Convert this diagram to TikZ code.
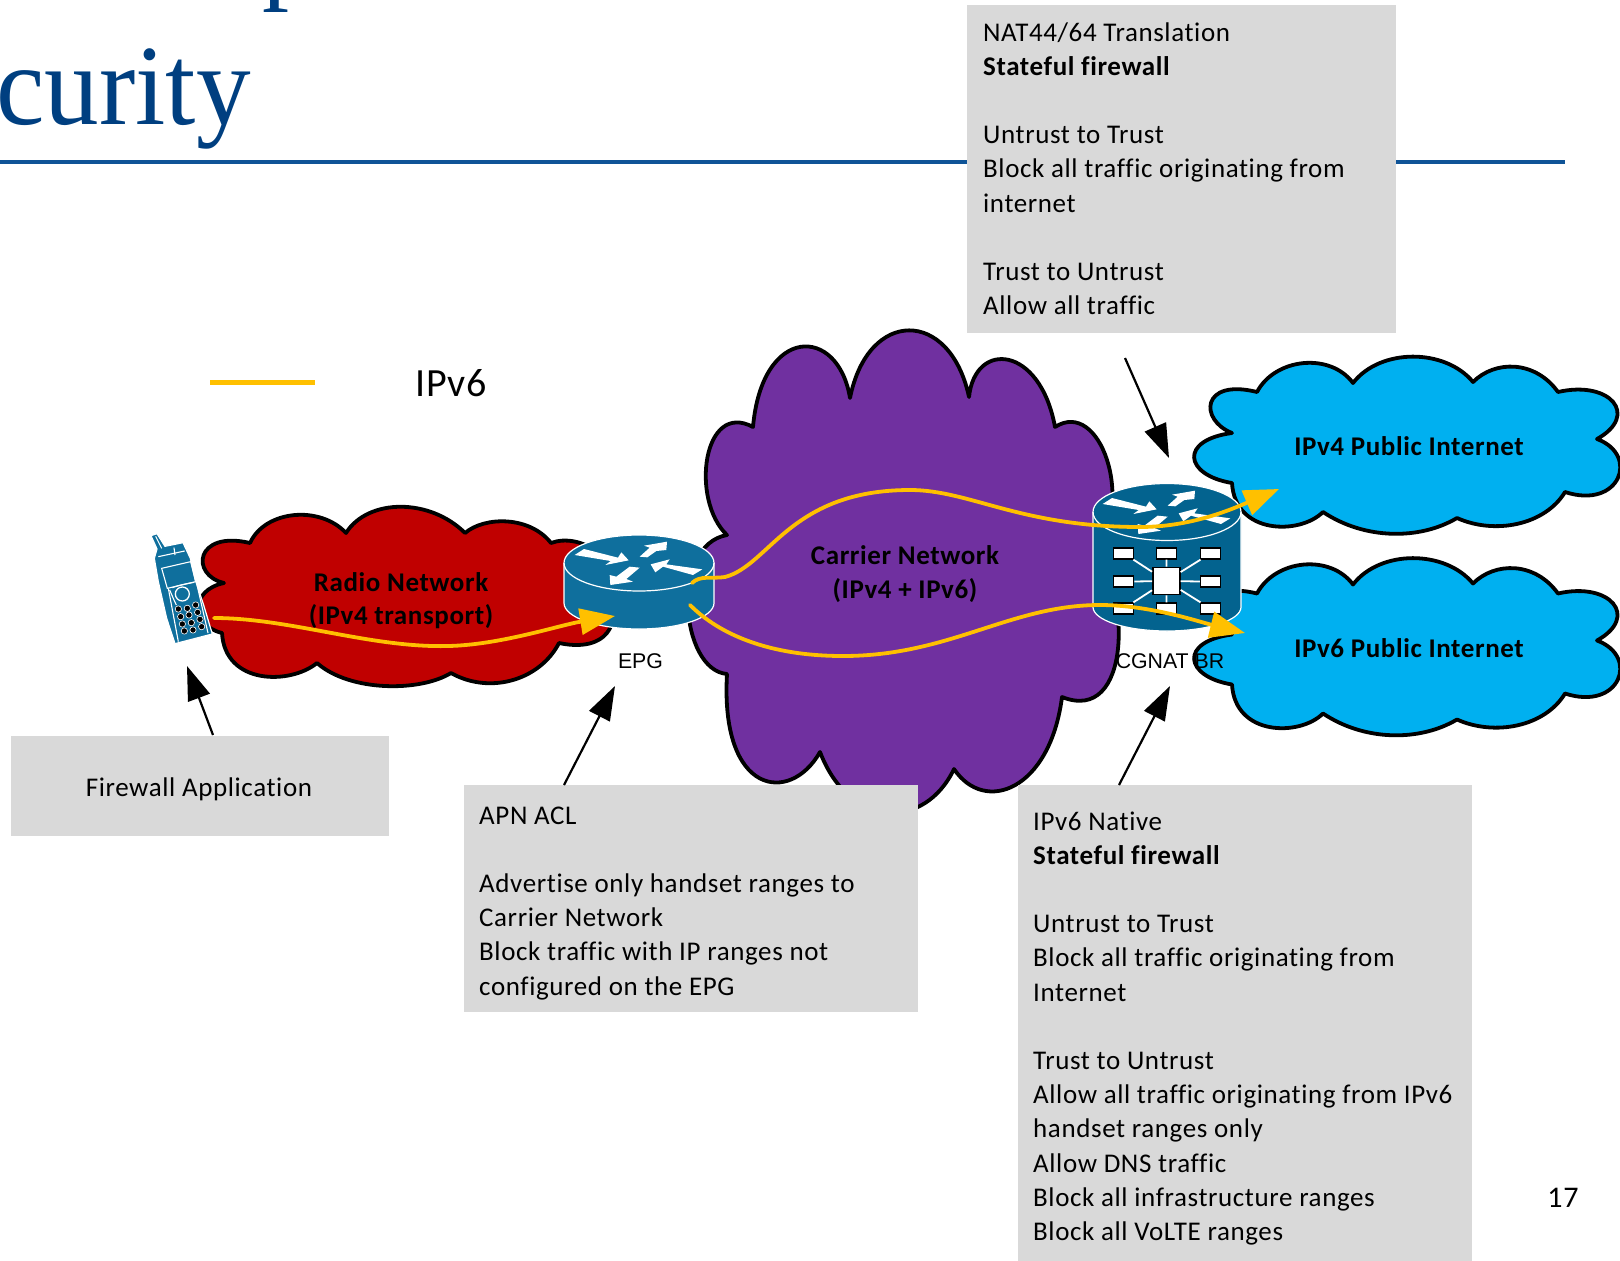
\documentclass[tikz,border=0pt]{standalone}
\usepackage{fontspec}
\setmainfont[Ligatures=NoCommon,LetterSpace=2.25]{Carlito}
\newfontfamily\arialf{Liberation Sans}
\newfontfamily\titlef{Liberation Serif}
\usetikzlibrary{arrows.meta}
\definecolor{cloudred}{HTML}{C00000}
\definecolor{cloudviolet}{HTML}{7030A0}
\definecolor{cloudblue}{HTML}{00B0F0}
\definecolor{routerA}{HTML}{0F6F9D}
\definecolor{routerB}{HTML}{03638F}
\definecolor{gold}{HTML}{FFC000}
\definecolor{boxgray}{HTML}{D9D9D9}
\definecolor{titleblue}{HTML}{003F80}
\definecolor{ruleblue}{HTML}{0F5497}
\tikzset{
  cloudshape/.style={draw=black,line width=3.8pt,line join=round},
  graybox/.style={fill=boxgray,draw=none},
  boxtext/.style={anchor=north west,inner sep=0pt,align=left,font=\fontsize{27}{34.2}\selectfont},
  cloudlabel/.style={inner sep=0pt,align=center,font=\fontsize{27}{34.2}\selectfont\bfseries,text=black},
  smalllabel/.style={inner sep=0pt,font=\fontsize{21.3}{25}\selectfont\arialf,text=black},
  goldline/.style={draw=gold,line width=3.8pt,line cap=round,-{Triangle[length=35pt,width=26pt,fill=gold]}},
  blackarrow/.style={draw=black,line width=2.2pt,-{Triangle[length=34pt,width=23pt,fill=black]}},
  portbox/.style={draw=black,fill=white,line width=1.6pt,minimum width=20pt,minimum height=11pt,inner sep=0pt},
  hubbox/.style={draw=black,fill=white,line width=1.6pt,minimum width=27pt,minimum height=27pt,inner sep=0pt},
  spoke/.style={draw=white,line width=1.8pt},
}
\newcommand{\rtrarrows}{%
  \fill[white] (-193,-24)--(-165,-42)--(-63,-16)--(-53,-32)--(-31,-8)--(-101,6)--(-85,-6)--cycle;
  \fill[white] (2,-19)--(25,-17)--(52,-36)--(82,-39)--(84,-64)--(15,-52)--(32,-46)--cycle;
  \fill[white] (190,19)--(162,36)--(72,11)--(49,28)--(35,4)--(92,-11)--(82,4)--cycle;
  \fill[white] (-28,11)--(2,14)--(-38,48)--(-18,56)--(-86,66)--(-88,36)--(-68,41)--cycle;
}
\begin{document}
\begin{tikzpicture}[x=1pt,y=-1pt]
\useasboundingbox (0,0) rectangle (1620,1261);

% title
\node[anchor=base west,inner sep=0pt,text=titleblue,font=\fontsize{108}{120}\selectfont\titlef] (titlep) at (262,-11) {p};
\node[anchor=base west,inner sep=0pt,text=titleblue,font=\fontsize{108}{120}\selectfont\titlef] (titlecurity) at (-4,124) {\scalebox{1.01}[1.06]{curity}};
\fill[ruleblue] (0,160.3) rectangle (1565,163.7);

% legend
\coordinate (legA) at (210,382.5);
\coordinate (legB) at (315,382.5);
\draw[gold,line width=5pt] (legA) -- (legB);
\node[anchor=west,inner sep=0pt,font=\fontsize{40}{48}\selectfont] (legtext) at (415,383) {IPv6};

% red cloud
\path[cloudshape,fill=cloudred] (224,583)
 .. controls (190,575) and (195,530) .. (250,543)
 .. controls (265,510) and (320,505) .. (346,533)
 .. controls (368,498) and (430,498) .. (465,533)
 .. controls (485,516) and (530,516) .. (551,543)
 .. controls (580,532) and (625,560) .. (600,590)
 .. controls (625,610) and (615,655) .. (559,643)
 .. controls (540,680) and (490,695) .. (451,673)
 .. controls (420,692) and (350,692) .. (317,663)
 .. controls (290,685) and (225,685) .. (222,633)
 .. controls (190,625) and (190,590) .. (224,583) -- cycle;

% carrier cloud
\path[cloudshape,fill=cloudviolet] (753,427)
 .. controls (762,325) and (838,325) .. (850,398)
 .. controls (868,308) and (950,308) .. (969,397)
 .. controls (975,340) and (1040,345) .. (1055,427)
 .. controls (1100,398) and (1135,500) .. (1095,555)
 .. controls (1130,590) and (1132,725) .. (1062,697)
 .. controls (1050,790) and (985,815) .. (954,769)
 .. controls (925,830) and (850,830) .. (820,752)
 .. controls (790,805) and (720,795) .. (727,674)
 .. controls (680,670) and (670,545) .. (727,535)
 .. controls (690,500) and (703,400) .. (753,427) -- cycle;

% blue clouds
\foreach \dy in {0,201.5}{
\path[cloudshape,fill=cloudblue,yshift=-\dy pt] (1232,433)
 .. controls (1199,420) and (1201,378) .. (1257,392)
 .. controls (1275,358) and (1330,352) .. (1353,383)
 .. controls (1380,348) and (1445,348) .. (1473,382)
 .. controls (1495,360) and (1535,360) .. (1558,392)
 .. controls (1610,380) and (1640,415) .. (1597,439)
 .. controls (1640,455) and (1620,510) .. (1565,492)
 .. controls (1545,525) and (1495,535) .. (1457,518)
 .. controls (1420,540) and (1365,540) .. (1323,512)
 .. controls (1300,535) and (1235,535) .. (1232,483)
 .. controls (1184,475) and (1179,440) .. (1232,433) -- cycle;
}

% phone
\begin{scope}[shift={(139,525)},x=.3333pt,y=-.3333pt]
  \path[fill=routerA,draw=white,line width=1.2pt,line join=round]
    (36,32)--(54,26)--(78,64)--(132,53)--(154,100)--(169,165)--(194,240)--(220,327)--(108,356)--(83,280)--(58,170)--(46,100)--(54,72)--cycle;
  \draw[white,line width=1.1pt] (68,130)--(155,110)--(170,170)--(85,190)--cycle;
  \draw[white,line width=1.1pt] (58,95)--(137,78);
  \draw[white,line width=1.1pt] (105,68)--(108,90);
  \draw[white,line width=1.1pt] (50,34)--(68,70);
  \draw[white,line width=1.1pt] (88,190)--(118,350);
  \draw[white,line width=1.1pt] (172,170)--(207,324);
  \draw[white,line width=1.3pt] (130,207) circle (21);
  \draw[white,line width=1.1pt] (92,195)--(105,225)--(112,240);
  \draw[white,line width=1.1pt] (100,188) .. controls (120,180) and (150,175) .. (165,172);
  \foreach \px/\py in {118/252,145/250,170/240,125/275,150/270,176/262,130/297,157/293,183/283,136/318,162/315,188/305}{
    \fill[black,draw=white,line width=.6pt] (\px,\py) circle (9.5);
  }
\end{scope}

% EPG router
\path[fill=routerA,draw=white,line width=1.2pt] (564,563) -- (564,603)
  arc[start angle=180,end angle=360,x radius=75pt,y radius=26pt] -- (714,563)
  arc[start angle=0,end angle=180,x radius=75pt,y radius=28pt] -- cycle;
\draw[white,line width=1.2pt] (564,563) arc[start angle=180,end angle=360,x radius=75pt,y radius=28pt];
\begin{scope}[shift={(639,563)},x=.3333pt,y=-.3333pt]\rtrarrows\end{scope}

% CGNAT router
\path[fill=routerB,draw=white,line width=1.2pt] (1093,512) -- (1093,607)
  arc[start angle=180,end angle=360,x radius=74pt,y radius=24pt] -- (1241,512)
  arc[start angle=0,end angle=180,x radius=74pt,y radius=28.5pt] -- cycle;
\draw[white,line width=1.2pt] (1093,512) arc[start angle=180,end angle=360,x radius=74pt,y radius=28.5pt];
\begin{scope}[shift={(1167,512)},x=.3333pt,y=-.3333pt]\rtrarrows\end{scope}
\begin{scope}[shift={(1060,440)},x=.3333pt,y=-.3333pt]
  \node[portbox] (p1) at (191,340) {};
  \node[portbox] (p2) at (320,340) {};
  \node[portbox] (p3) at (452,340) {};
  \node[portbox] (p4) at (191,425) {};
  \node[portbox] (p5) at (452,425) {};
  \node[portbox] (p6) at (191,506) {};
  \node[portbox] (p7) at (320,506) {};
  \node[portbox] (p8) at (452,506) {};
  \node[hubbox] (hub) at (319,423) {};
  \foreach \pp in {p1,p2,p3,p4,p5,p6,p7,p8}{\draw[spoke] (hub) -- (\pp);}
\end{scope}

% labels in clouds
\node[cloudlabel] (radio1) at (401,582) {Radio Network};
\node[cloudlabel] (radio2) at (401,617) {(IPv4 transport)};
\node[cloudlabel] (carrier1) at (905,555) {Carrier Network};
\node[cloudlabel] (carrier2) at (905,591) {(IPv4 + IPv6)};
\node[cloudlabel] (pub4) at (1409,446) {IPv4 Public Internet};
\node[cloudlabel] (pub6) at (1409,648) {IPv6 Public Internet};
\node[smalllabel] (epg) at (640.5,661) {EPG};
\node[smalllabel] (cgnat) at (1170,661) {CGNAT BR};

% gold flows
\coordinate (r0) at (214,618);
\coordinate (r1) at (448,646);
\coordinate (r2) at (615,616);
\draw[goldline] (r0) .. controls (290,618) and (370,648) .. (r1) .. controls (500,645) and (560,625) .. (r2);
\coordinate (u0) at (692,583);
\coordinate (u1) at (725,577);
\coordinate (u2) at (910,490);
\coordinate (u3) at (1140,527);
\coordinate (u4) at (1279,489);
\draw[goldline] (u0) .. controls (700,575) and (712,579) .. (u1) .. controls (770,565) and (790,490) .. (u2) .. controls (970,490) and (1020,527) .. (u3) .. controls (1190,527) and (1230,510) .. (u4);
\coordinate (d0) at (690,605);
\coordinate (d1) at (843,656);
\coordinate (d2) at (1100,605);
\coordinate (d3) at (1245,633);
\draw[goldline] (d0) .. controls (720,635) and (770,656) .. (d1) .. controls (950,656) and (1010,605) .. (d2) .. controls (1150,605) and (1200,622) .. (d3);

% gray boxes
\fill[graybox] (967,5) rectangle (1396,333);
\fill[graybox] (11,736) rectangle (389,836);
\fill[graybox] (464,785) rectangle (918,1012);
\fill[graybox] (1018,785) rectangle (1472,1261);

\node[boxtext] (natbox) at (983,17) {\strut NAT44/64 Translation\\\strut\textbf{Stateful firewall}\\\strut\\\strut Untrust to Trust\\\strut Block all traffic originating from\\\strut internet\\\strut\\\strut Trust to Untrust\\\strut Allow all traffic};
\node[inner sep=0pt,font=\fontsize{27}{34.2}\selectfont] (fwbox) at (199,789) {Firewall Application};
\node[boxtext] (apnbox) at (479,800) {\strut APN ACL\\\strut\\\strut Advertise only handset ranges to\\\strut Carrier Network\\\strut Block traffic with IP ranges not\\\strut configured on the EPG};
\node[boxtext] (v6box) at (1033,806) {\strut IPv6 Native\\\strut\textbf{Stateful firewall}\\\strut\\\strut Untrust to Trust\\\strut Block all traffic originating from\\\strut Internet\\\strut\\\strut Trust to Untrust\\\strut Allow all traffic originating from IPv6\\\strut handset ranges only\\\strut Allow DNS traffic\\\strut Block all infrastructure ranges\\\strut Block all VoLTE ranges};
\node[inner sep=0pt,font=\fontsize{30}{36}\selectfont] (pagenum) at (1563,1198) {17};

% black arrows
\coordinate (a1s) at (213,735);
\coordinate (a1t) at (187,666);
\coordinate (a2s) at (564,785);
\coordinate (a2t) at (615,686);
\coordinate (a3s) at (1125,358);
\coordinate (a3t) at (1169,458);
\coordinate (a4s) at (1119,785);
\coordinate (a4t) at (1170,686);
\draw[blackarrow] (a1s) -- (a1t);
\draw[blackarrow] (a2s) -- (a2t);
\draw[blackarrow] (a3s) -- (a3t);
\draw[blackarrow] (a4s) -- (a4t);
\end{tikzpicture}
\end{document}
